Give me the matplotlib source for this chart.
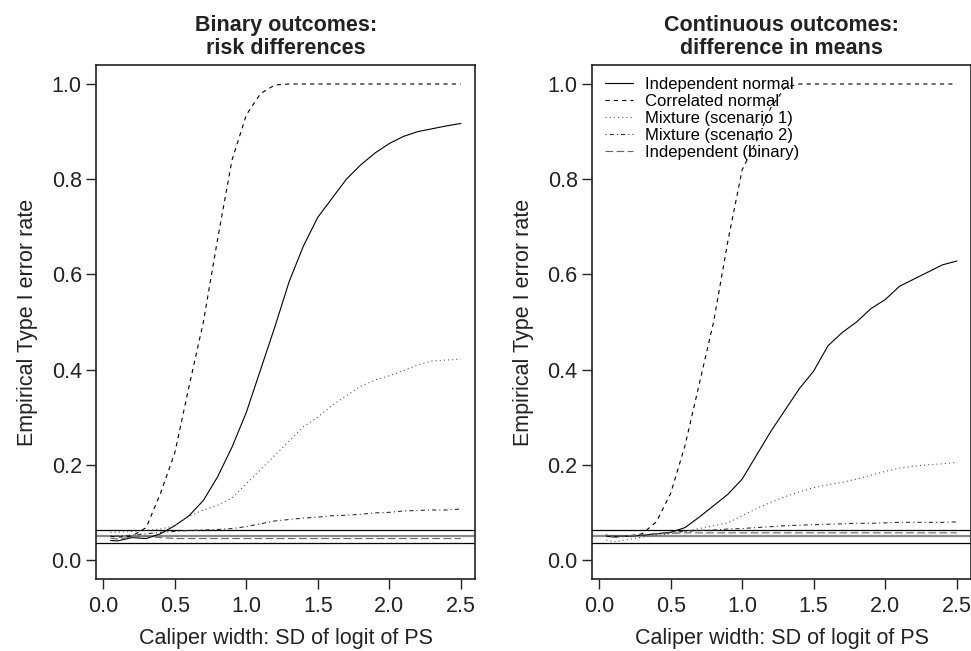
import matplotlib
matplotlib.use("Agg")
import matplotlib.pyplot as plt
import numpy as np

plt.rcParams['font.family'] = ['Liberation Sans', 'DejaVu Sans']
plt.rcParams['lines.scale_dashes'] = False

# caliper widths (SD of logit of PS)
calipers = [0.05, 0.1, 0.2, 0.3, 0.4, 0.5, 0.6, 0.7, 0.8, 0.9, 1.0, 1.1, 1.2,
            1.3, 1.4, 1.5, 1.6, 1.7, 1.8, 1.9, 2.0, 2.1, 2.2, 2.3, 2.4, 2.5]

# binary outcomes: risk differences
bin_indep_normal = [0.041, 0.040, 0.047, 0.045, 0.055, 0.072, 0.093, 0.125, 0.175, 0.237, 0.310, 0.400, 0.490,
                    0.585, 0.660, 0.720, 0.760, 0.800, 0.830, 0.855, 0.875, 0.890, 0.900, 0.906, 0.912, 0.917]
bin_corr_normal = [0.050, 0.048, 0.050, 0.068, 0.140, 0.225, 0.365, 0.500, 0.675, 0.840, 0.935, 0.980, 0.998,
                   1.000, 1.000, 1.000, 1.000, 1.000, 1.000, 1.000, 1.000, 1.000, 1.000, 1.000, 1.000, 1.000]
bin_mix1 = [0.058, 0.058, 0.060, 0.062, 0.065, 0.072, 0.092, 0.105, 0.115, 0.130, 0.160, 0.190, 0.220,
            0.250, 0.280, 0.300, 0.325, 0.345, 0.365, 0.378, 0.387, 0.398, 0.410, 0.418, 0.420, 0.422]
bin_mix2 = [0.050, 0.050, 0.052, 0.055, 0.058, 0.060, 0.062, 0.063, 0.064, 0.066, 0.070, 0.076, 0.082,
            0.085, 0.088, 0.090, 0.093, 0.094, 0.096, 0.099, 0.100, 0.103, 0.104, 0.105, 0.105, 0.107]
bin_indep_binary = [0.046, 0.044, 0.048, 0.050, 0.047, 0.045, 0.045, 0.045, 0.045, 0.045, 0.045, 0.045, 0.045,
                    0.045, 0.045, 0.045, 0.045, 0.045, 0.045, 0.045, 0.045, 0.045, 0.045, 0.045, 0.045, 0.045]

# continuous outcomes: difference in means
con_indep_normal = [0.052, 0.050, 0.050, 0.052, 0.055, 0.058, 0.068, 0.090, 0.114, 0.138, 0.170, 0.220, 0.270,
                    0.315, 0.360, 0.397, 0.450, 0.478, 0.500, 0.528, 0.547, 0.575, 0.590, 0.605, 0.620, 0.628]
con_corr_normal = [0.050, 0.048, 0.050, 0.055, 0.080, 0.140, 0.240, 0.370, 0.500, 0.670, 0.820, 0.880, 0.950,
                   0.993, 1.000, 1.000, 1.000, 1.000, 1.000, 1.000, 1.000, 1.000, 1.000, 1.000, 1.000, 1.000]
con_mix1 = [0.042, 0.038, 0.043, 0.048, 0.052, 0.055, 0.060, 0.066, 0.072, 0.078, 0.093, 0.108, 0.121,
            0.133, 0.143, 0.152, 0.158, 0.163, 0.170, 0.178, 0.186, 0.193, 0.197, 0.200, 0.202, 0.205]
con_mix2 = [0.050, 0.048, 0.050, 0.052, 0.055, 0.058, 0.060, 0.062, 0.063, 0.065, 0.066, 0.068, 0.070,
            0.072, 0.073, 0.074, 0.075, 0.076, 0.077, 0.077, 0.078, 0.079, 0.079, 0.079, 0.079, 0.080]
con_indep_binary = [0.052, 0.050, 0.051, 0.053, 0.055, 0.056, 0.057, 0.057, 0.057, 0.057, 0.057, 0.057, 0.057,
                    0.057, 0.057, 0.057, 0.057, 0.057, 0.057, 0.057, 0.057, 0.057, 0.057, 0.057, 0.057, 0.057]

labels = ["Independent normal", "Correlated normal", "Mixture (scenario 1)",
          "Mixture (scenario 2)", "Independent (binary)"]
titles = ["Binary outcomes:\nrisk differences", "Continuous outcomes:\ndifference in means"]

nominal = 0.05
band = 1.96 * np.sqrt(0.05 * 0.95 / 1000)

styles = [
    dict(color="black", linestyle="-"),
    dict(color="black", linestyle=(0, (3, 3))),
    dict(color="#555555", linestyle=(0, (0.8, 2.2))),
    dict(color="#333333", linestyle=(0, (0.8, 2.2, 3, 2.2))),
    dict(color="#666666", linestyle=(0, (5.5, 2.5))),
]


def panel(ax, series, title, legend=False):
    ax.axhline(nominal + band, color="black", lw=0.9)
    ax.axhline(nominal - band, color="black", lw=0.9)
    ax.axhline(nominal, color="#888888", lw=1.6)
    for s, lab, st in zip(series, labels, styles):
        ax.plot(calipers, s, lw=0.8, label=lab, **st)
    ax.set_xlim(-0.048, 2.598)
    ax.set_ylim(-0.04, 1.04)
    ax.set_xticks(np.arange(0, 2.51, 0.5))
    ax.set_yticks(np.arange(0, 1.01, 0.2))
    ax.set_xticklabels(["%.1f" % v for v in np.arange(0, 2.51, 0.5)])
    ax.set_yticklabels(["%.1f" % v for v in np.arange(0, 1.01, 0.2)])
    ax.tick_params(direction="out", length=7, width=1, labelsize=15.5, colors="#222222")
    ax.tick_params(axis="x", pad=5)
    for sp in ax.spines.values():
        sp.set_linewidth(1.2)
        sp.set_color("#222222")
    ax.set_xlabel("Caliper width: SD of logit of PS", fontsize=15.5, color="#222222", labelpad=8)
    ax.set_ylabel("Empirical Type I error rate", fontsize=15.5, color="#222222", labelpad=10)
    ax.set_title(title, fontsize=15.5, fontweight="bold", color="#222222", pad=8, linespacing=1.1)
    if legend:
        ax.legend(loc="upper left", bbox_to_anchor=(0.034, 0.977), frameon=False,
                  fontsize=12, handlelength=1.65, handletextpad=0.75,
                  labelspacing=0.12, borderpad=0, borderaxespad=0)


fig = plt.figure(figsize=(9.71, 6.51), dpi=100)
ax1 = fig.add_axes([0.0993, 0.1106, 0.3897, 0.7896])
ax2 = fig.add_axes([0.61, 0.1106, 0.3897, 0.7896])

panel(ax1, [bin_indep_normal, bin_corr_normal, bin_mix1, bin_mix2, bin_indep_binary], titles[0])
panel(ax2, [con_indep_normal, con_corr_normal, con_mix1, con_mix2, con_indep_binary], titles[1], legend=True)

fig.savefig("out.png", dpi=100)
